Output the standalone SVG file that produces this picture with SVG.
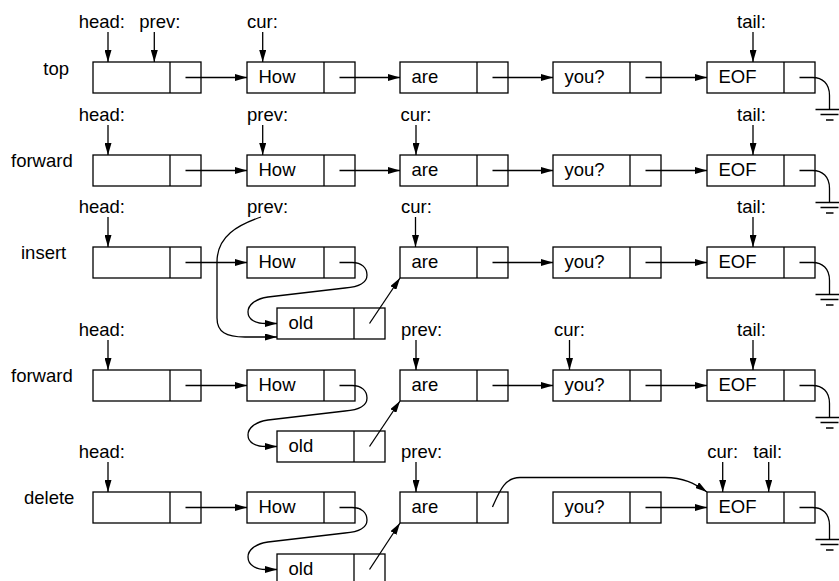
<svg xmlns="http://www.w3.org/2000/svg" width="839" height="581" viewBox="0 0 839 581">
<style>
.b rect,.ln{fill:none;stroke:#000;stroke-width:1.3}
.c{fill:none;stroke:#000;stroke-width:1.3}
.a{marker-end:url(#ah)}
text{font-family:"Liberation Sans",Arial,Helvetica,sans-serif;font-size:18.5px;fill:#000}
</style>
<defs>
<marker id="ah" viewBox="0 0 12 7" refX="12" refY="3.5" markerWidth="12" markerHeight="7" markerUnits="userSpaceOnUse" orient="auto"><path d="M0 0L12 3.5L0 7z" fill="#000"/></marker>
<g id="gnd"><path class="c" d="M0 0H13C23 0 30 6 30 18V32"/><path class="c" d="M16 32H44M21 37H39M26.5 42.5H34"/></g>
</defs>
<rect width="839" height="581" fill="#fff" stroke="none"/>

<g id="row-labels">
<text x="43.3" y="75">top</text>
<text x="11" y="166.5">forward</text>
<text x="21" y="258.5">insert</text>
<text x="11" y="382">forward</text>
<text x="24" y="504">delete</text>
</g>

<g id="pointer-labels">
<text x="78.7" y="28">head:</text><text x="139.3" y="28">prev:</text><text x="247" y="28">cur:</text><text x="737" y="28">tail:</text>
<text x="78.7" y="121">head:</text><text x="247" y="121">prev:</text><text x="400.5" y="121">cur:</text><text x="737" y="121">tail:</text>
<text x="78.7" y="213">head:</text><text x="247" y="213">prev:</text><text x="401" y="213">cur:</text><text x="737" y="213">tail:</text>
<text x="78.7" y="336">head:</text><text x="401" y="336">prev:</text><text x="554" y="336">cur:</text><text x="737" y="336">tail:</text>
<text x="78.7" y="458">head:</text><text x="401" y="458">prev:</text><text x="707.3" y="458">cur:</text><text x="753.3" y="458">tail:</text>
</g>

<g class="b">
<!-- row 1 -->
<g id="r1-head"><rect x="93" y="62" width="108" height="31"/><path class="ln" d="M170 62V93"/></g>
<g id="r1-how"><rect x="247" y="62" width="108" height="31"/><path class="ln" d="M324 62V93"/><text x="258.5" y="83">How</text></g>
<g id="r1-are"><rect x="400" y="62" width="108" height="31"/><path class="ln" d="M477 62V93"/><text x="411.5" y="83">are</text></g>
<g id="r1-you"><rect x="553" y="62" width="108" height="31"/><path class="ln" d="M630 62V93"/><text x="564.5" y="83">you?</text></g>
<g id="r1-eof"><rect x="707" y="62" width="108" height="31"/><path class="ln" d="M784 62V93"/><text x="718.5" y="83">EOF</text></g>

<!-- row 2 -->
<g id="r2-head"><rect x="93" y="155" width="108" height="31"/><path class="ln" d="M170 155V186"/></g>
<g id="r2-how"><rect x="247" y="155" width="108" height="31"/><path class="ln" d="M324 155V186"/><text x="258.5" y="176">How</text></g>
<g id="r2-are"><rect x="400" y="155" width="108" height="31"/><path class="ln" d="M477 155V186"/><text x="411.5" y="176">are</text></g>
<g id="r2-you"><rect x="553" y="155" width="108" height="31"/><path class="ln" d="M630 155V186"/><text x="564.5" y="176">you?</text></g>
<g id="r2-eof"><rect x="707" y="155" width="108" height="31"/><path class="ln" d="M784 155V186"/><text x="718.5" y="176">EOF</text></g>

<!-- row 3 -->
<g id="r3-head"><rect x="93" y="247" width="108" height="31"/><path class="ln" d="M170 247V278"/></g>
<g id="r3-how"><rect x="247" y="247" width="108" height="31"/><path class="ln" d="M324 247V278"/><text x="258.5" y="268">How</text></g>
<g id="r3-are"><rect x="400" y="247" width="108" height="31"/><path class="ln" d="M477 247V278"/><text x="411.5" y="268">are</text></g>
<g id="r3-you"><rect x="553" y="247" width="108" height="31"/><path class="ln" d="M630 247V278"/><text x="564.5" y="268">you?</text></g>
<g id="r3-eof"><rect x="707" y="247" width="108" height="31"/><path class="ln" d="M784 247V278"/><text x="718.5" y="268">EOF</text></g>
<g id="r3-old"><rect x="277" y="308" width="108" height="31"/><path class="ln" d="M354 308V339"/><text x="288.5" y="329">old</text></g>

<!-- row 4 -->
<g id="r4-head"><rect x="93" y="370" width="108" height="31"/><path class="ln" d="M170 370V401"/></g>
<g id="r4-how"><rect x="247" y="370" width="108" height="31"/><path class="ln" d="M324 370V401"/><text x="258.5" y="391">How</text></g>
<g id="r4-are"><rect x="400" y="370" width="108" height="31"/><path class="ln" d="M477 370V401"/><text x="411.5" y="391">are</text></g>
<g id="r4-you"><rect x="553" y="370" width="108" height="31"/><path class="ln" d="M630 370V401"/><text x="564.5" y="391">you?</text></g>
<g id="r4-eof"><rect x="707" y="370" width="108" height="31"/><path class="ln" d="M784 370V401"/><text x="718.5" y="391">EOF</text></g>
<g id="r4-old"><rect x="277" y="431" width="108" height="31"/><path class="ln" d="M354 431V462"/><text x="288.5" y="452">old</text></g>

<!-- row 5 -->
<g id="r5-head"><rect x="93" y="492" width="108" height="31"/><path class="ln" d="M170 492V523"/></g>
<g id="r5-how"><rect x="247" y="492" width="108" height="31"/><path class="ln" d="M324 492V523"/><text x="258.5" y="513">How</text></g>
<g id="r5-are"><rect x="400" y="492" width="108" height="31"/><path class="ln" d="M477 492V523"/><text x="411.5" y="513">are</text></g>
<g id="r5-you"><rect x="553" y="492" width="108" height="31"/><path class="ln" d="M630 492V523"/><text x="564.5" y="513">you?</text></g>
<g id="r5-eof"><rect x="707" y="492" width="108" height="31"/><path class="ln" d="M784 492V523"/><text x="718.5" y="513">EOF</text></g>
<g id="r5-old"><rect x="277" y="554" width="108" height="31"/><path class="ln" d="M354 554V585"/><text x="288.5" y="575">old</text></g>
</g>

<g id="connectors">
<!-- row 1 -->
<path class="c a" d="M108 32V62"/><path class="c a" d="M154.3 32V62"/><path class="c a" d="M262.7 32V62"/><path class="c a" d="M753 32V62"/>
<path class="c a" d="M185.5 77.5H247"/><path class="c a" d="M339.5 77.5H400"/><path class="c a" d="M492.5 77.5H553"/><path class="c a" d="M645.5 77.5H707"/>
<use href="#gnd" x="799.5" y="77.5"/>
<!-- row 2 -->
<path class="c a" d="M108 125V155"/><path class="c a" d="M262.7 125V155"/><path class="c a" d="M416 125V155"/><path class="c a" d="M753 125V155"/>
<path class="c a" d="M185.5 170.5H247"/><path class="c a" d="M339.5 170.5H400"/><path class="c a" d="M492.5 170.5H553"/><path class="c a" d="M645.5 170.5H707"/>
<use href="#gnd" x="799.5" y="170.5"/>
<!-- row 3 -->
<path class="c a" d="M108 217V247"/><path class="c a" d="M415.5 217V247"/><path class="c a" d="M753 217V247"/>
<path class="c a" d="M261 217C238 225 217 236 217 262V318C217 332 226 337 245 337H277"/>
<path class="c a" d="M185.5 262.5H247"/><path class="c a" d="M492.5 262.5H553"/><path class="c a" d="M645.5 262.5H707"/>
<path class="c a" d="M339.5 262.5H352C362 262.5 367 268 367 275C367 283 358 287 345 288L268 297C255 299 248 305 248 312C248 320 256 323.5 266 323.5H277"/>
<path class="c a" d="M369.5 323.5L400 278"/>
<use href="#gnd" x="799.5" y="262.5"/>
<!-- row 4 -->
<path class="c a" d="M108 340V370"/><path class="c a" d="M416 340V370"/><path class="c a" d="M569.5 340V370"/><path class="c a" d="M753 340V370"/>
<path class="c a" d="M185.5 385.5H247"/><path class="c a" d="M492.5 385.5H553"/><path class="c a" d="M645.5 385.5H707"/>
<path class="c a" d="M339.5 385.5H352C362 385.5 367 391 367 398C367 406 358 410 345 411L268 420C255 422 248 428 248 435C248 443 256 446.5 266 446.5H277"/>
<path class="c a" d="M369.5 446.5L400 401"/>
<use href="#gnd" x="799.5" y="385.5"/>
<!-- row 5 -->
<path class="c a" d="M108 462V492"/><path class="c a" d="M416 462V492"/><path class="c a" d="M722.7 462V492"/><path class="c a" d="M768.7 462V492"/>
<path class="c a" d="M185.5 507.5H247"/><path class="c a" d="M645.5 507.5H707"/>
<path class="c a" d="M339.5 507.5H352C362 507.5 367 513 367 520C367 528 358 532 345 533L268 542C255 544 248 550 248 557C248 565 256 569.5 266 569.5H277"/>
<path class="c a" d="M369.5 569.5L400 523"/>
<path class="c a" d="M492.5 507C500 490 505 477.5 520 477.5H665C683 477.5 694 483 707 492"/>
<use href="#gnd" x="799.5" y="507.5"/>
</g>
</svg>
